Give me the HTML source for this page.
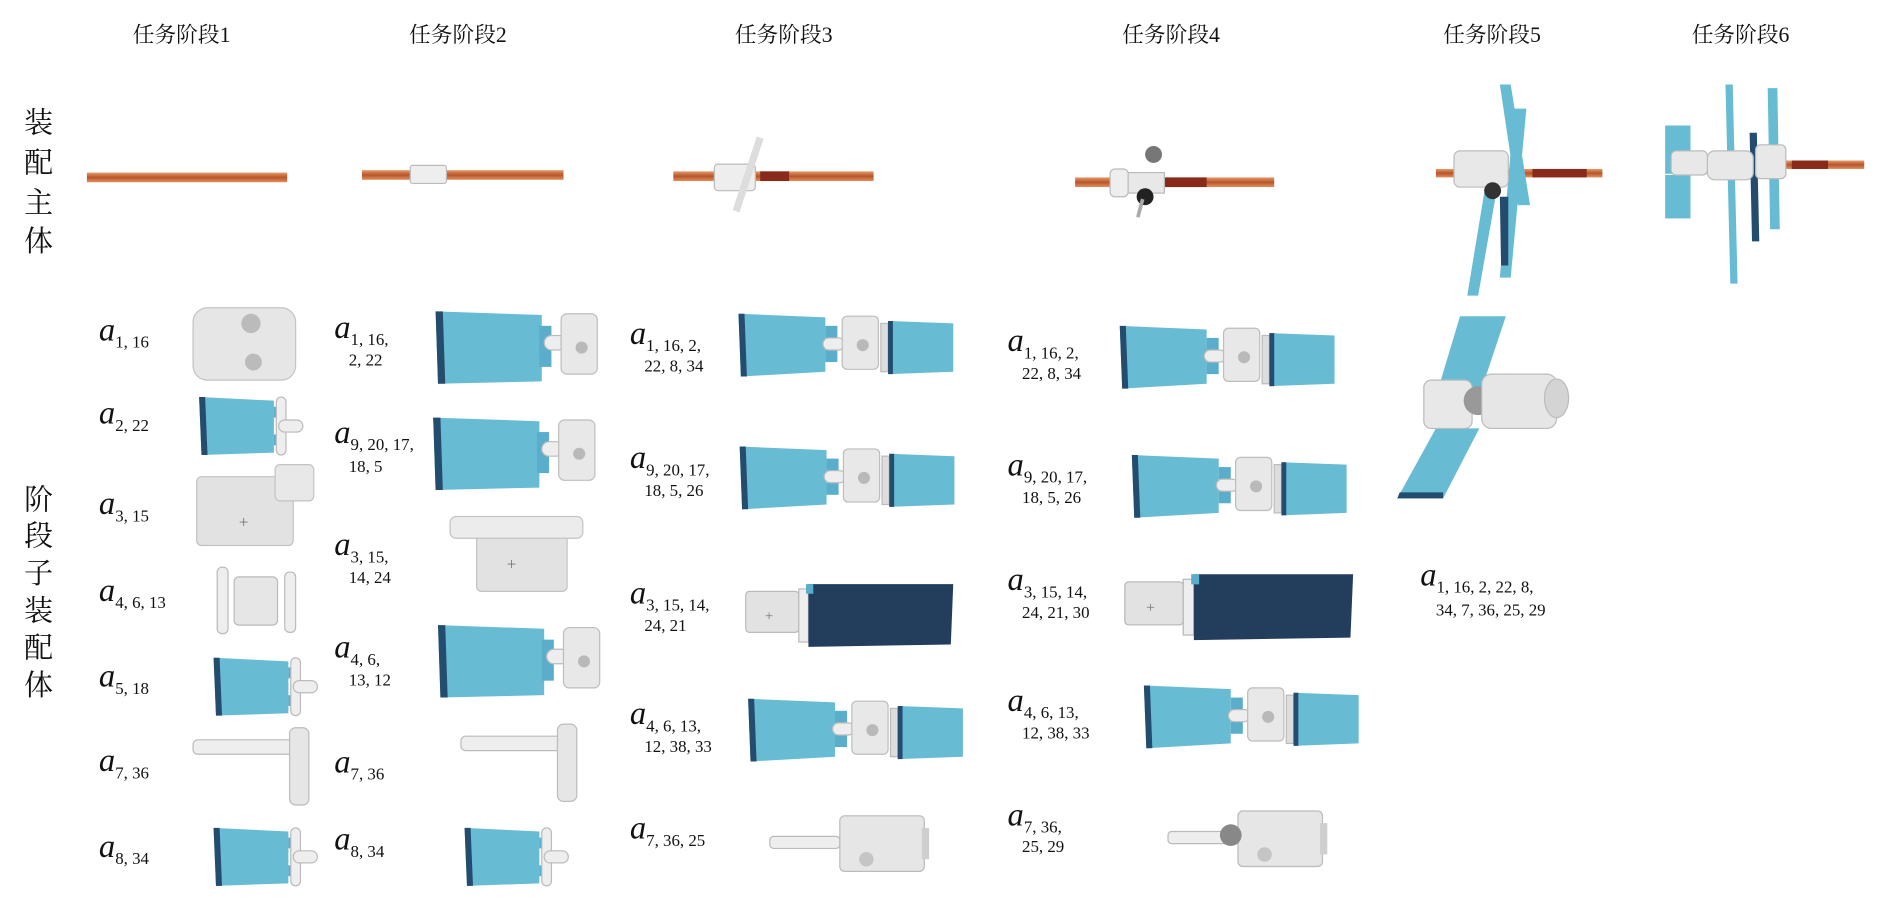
<!DOCTYPE html>
<html><head><meta charset="utf-8"><style>
html,body{margin:0;padding:0;background:#fff;width:1892px;height:916px;overflow:hidden}
svg{display:block}
text{font-family:"Liberation Serif","Noto Serif CJK SC",serif;fill:#111}
.h{font-size:18px}
.v{font-size:24px}
.a{font-size:27px;font-style:italic}
.s{font-size:14px}
</style></head><body>
<svg width="1892" height="916" viewBox="0 0 1568 759" preserveAspectRatio="none" xmlns="http://www.w3.org/2000/svg">
<defs>
<linearGradient id="rod" x1="0" y1="0" x2="0" y2="1"><stop offset="0" stop-color="#e59a6a"/><stop offset=".5" stop-color="#b8552a"/><stop offset="1" stop-color="#e08e5e"/></linearGradient>
<g id="wb"><rect x="0" y="0" width="30" height="44" rx="4" fill="#e8e8e8" stroke="#bdbdbd"/><circle cx="17" cy="24" r="5" fill="#b9b9b9"/></g>
<g id="dp">
 <polygon points="0,0 72,3 72,48 2,52" fill="#67bbd3"/>
 <polygon points="0,0 5,0 7,52 2,52" fill="#244c6e"/>
 <rect x="72" y="10" width="10" height="10" fill="#5aaecb"/><rect x="72" y="30" width="10" height="10" fill="#5aaecb"/>
 <rect x="70" y="20" width="18" height="10" rx="5" fill="#eee" stroke="#bbb"/>
 <use href="#wb" x="86" y="2"/>
 <rect x="118" y="8" width="6" height="40" fill="#ddd" stroke="#bbb"/>
 <polygon points="124,6 178,8 178,48 124,50" fill="#67bbd3"/>
 <rect x="124" y="6" width="4" height="44" fill="#244c6e"/>
</g>
<g id="sp">
 <polygon points="0,0 62,3 62,46 2,48" fill="#67bbd3"/>
 <polygon points="0,0 5,0 7,48 2,48" fill="#244c6e"/>
 <rect x="62" y="8" width="9" height="9" fill="#5aaecb"/><rect x="62" y="31" width="9" height="9" fill="#5aaecb"/>
 <rect x="64" y="0" width="8" height="48" rx="4" fill="#eee" stroke="#bbb"/>
 <rect x="66" y="19" width="20" height="10" rx="5" fill="#eee" stroke="#bbb"/>
</g>
<g id="bp">
 <polygon points="0,0 88,3 88,58 2,60" fill="#67bbd3"/>
 <polygon points="0,0 6,0 8,60 2,60" fill="#244c6e"/>
 <rect x="86" y="12" width="10" height="34" fill="#5aaecb"/>
 <rect x="90" y="20" width="18" height="12" rx="6" fill="#eee" stroke="#bbb"/>
 <rect x="104" y="2" width="30" height="50" rx="5" fill="#e8e8e8" stroke="#bdbdbd"/><circle cx="121" cy="30" r="5" fill="#b9b9b9"/>
</g>
<g id="cyl">
 <rect x="0" y="17" width="58" height="10" rx="3" fill="#eee" stroke="#bbb"/>
 <rect x="58" y="0" width="70" height="46" rx="4" fill="#e6e6e6" stroke="#bbb"/>
 <rect x="126" y="10" width="6" height="26" fill="#cfcfcf"/>
 <circle cx="80" cy="36" r="6" fill="#c5c5c5"/>
</g>
<g id="tt">
 <rect x="0" y="10" width="85" height="12" rx="4" fill="#eee" stroke="#bbb"/>
 <rect x="80" y="0" width="16" height="64" rx="5" fill="#e6e6e6" stroke="#bbb"/>
</g>
<g id="dk">
 <rect x="0" y="6" width="44" height="34" rx="3" fill="#e2e2e2" stroke="#bbb"/>
 <text x="16" y="30" style="font-size:12px;fill:#777">+</text>
 <rect x="44" y="4" width="8" height="44" fill="#eee" stroke="#bbb"/>
 <polygon points="52,0 172,0 170,50 52,52" fill="#233d5d"/>
 <rect x="50" y="0" width="6" height="8" fill="#5aaecb"/>
</g>
</defs>

<!-- headers -->
<text class="h" x="110" y="35">任务阶段1</text>
<text class="h" x="339" y="35">任务阶段2</text>
<text class="h" x="609" y="35">任务阶段3</text>
<text class="h" x="930" y="35">任务阶段4</text>
<text class="h" x="1196" y="35">任务阶段5</text>
<text class="h" x="1402" y="35">任务阶段6</text>

<text class="v" x="20" y="110">装</text><text class="v" x="20" y="143">配</text><text class="v" x="20" y="176">主</text><text class="v" x="20" y="208">体</text>
<text class="v" x="20" y="422">阶</text><text class="v" x="20" y="452">段</text><text class="v" x="20" y="483">子</text><text class="v" x="20" y="514">装</text><text class="v" x="20" y="545">配</text><text class="v" x="20" y="576">体</text>

<!-- rods -->
<rect x="72" y="143" width="166" height="8" fill="url(#rod)"/>
<rect x="300" y="141" width="167" height="8" fill="url(#rod)"/>
<rect x="340" y="137" width="30" height="15" rx="2" fill="#eee" stroke="#bbb"/>
<rect x="558" y="142" width="166" height="8" fill="url(#rod)"/><rect x="630" y="142" width="24" height="8" fill="#8a2a1a"/>
<rect x="592" y="136" width="34" height="22" rx="3" fill="#eee" stroke="#bbb"/>
<line x1="610" y1="175" x2="630" y2="114" stroke="#ddd" stroke-width="6"/>
<rect x="891" y="147" width="165" height="8" fill="url(#rod)"/><rect x="960" y="147" width="40" height="8" fill="#8a2a1a"/>
<rect x="920" y="140" width="15" height="23" rx="4" fill="#eee" stroke="#bbb"/>
<rect x="935" y="143" width="30" height="17" fill="#e8e8e8" stroke="#bbb"/>
<circle cx="956" cy="128" r="7" fill="#777"/><circle cx="949" cy="163" r="7" fill="#222"/>
<line x1="943" y1="180" x2="947" y2="165" stroke="#aaa" stroke-width="3"/>
<!-- stage5 main -->
<rect x="1190" y="140" width="138" height="7" fill="url(#rod)"/><rect x="1270" y="140" width="45" height="7" fill="#8a2a1a"/>
<polygon points="1243,70 1252,70 1268,170 1258,170" fill="#67bbd3"/>
<polygon points="1255,90 1265,90 1252,230 1243,230" fill="#67bbd3"/>
<polygon points="1230,160 1240,160 1225,245 1216,245" fill="#67bbd3"/>
<polygon points="1243,163 1250,163 1250,220 1244,220" fill="#244c6e"/>
<rect x="1205" y="125" width="45" height="30" rx="5" fill="#e8e8e8" stroke="#bbb"/>
<circle cx="1237" cy="158" r="7" fill="#333"/>
<!-- stage6 main -->
<rect x="1480" y="133" width="65" height="7" fill="url(#rod)"/><rect x="1485" y="133" width="30" height="7" fill="#8a2a1a"/>
<rect x="1380" y="104" width="21" height="40" fill="#67bbd3"/><rect x="1380" y="145" width="21" height="36" fill="#67bbd3"/>
<polygon points="1430,70 1436,70 1440,235 1434,235" fill="#67bbd3"/>
<polygon points="1465,73 1473,73 1475,190 1467,190" fill="#67bbd3"/>
<polygon points="1450,110 1456,110 1458,200 1452,200" fill="#244c6e"/>
<rect x="1415" y="125" width="38" height="24" rx="6" fill="#e8e8e8" stroke="#bbb"/>
<rect x="1385" y="125" width="30" height="20" rx="4" fill="#e8e8e8" stroke="#bbb"/>
<rect x="1455" y="120" width="25" height="28" rx="4" fill="#e8e8e8" stroke="#bbb"/>

<!-- col1 -->
<text x="82" y="282"><tspan class="a">a</tspan><tspan class="s" dy="6">1, 16</tspan></text>
<rect x="160" y="255" width="85" height="60" rx="12" fill="#e6e6e6" stroke="#c3c3c3"/><circle cx="208" cy="268" r="8" fill="#bbb"/><circle cx="210" cy="300" r="7" fill="#bbb"/>
<text x="82" y="351"><tspan class="a">a</tspan><tspan class="s" dy="6">2, 22</tspan></text>
<use href="#sp" x="165" y="329"/>
<text x="82" y="426"><tspan class="a">a</tspan><tspan class="s" dy="6">3, 15</tspan></text>
<rect x="163" y="395" width="80" height="57" rx="4" fill="#e2e2e2" stroke="#c3c3c3"/><rect x="228" y="385" width="32" height="30" rx="4" fill="#e8e8e8" stroke="#c3c3c3"/><text x="198" y="437" style="font-size:14px;fill:#777">+</text>
<text x="82" y="498"><tspan class="a">a</tspan><tspan class="s" dy="6">4, 6, 13</tspan></text>
<rect x="194" y="478" width="36" height="40" rx="4" fill="#e6e6e6" stroke="#bbb"/><rect x="180" y="470" width="9" height="55" rx="4" fill="#eee" stroke="#bbb"/><rect x="236" y="474" width="9" height="50" rx="4" fill="#eee" stroke="#bbb"/>
<text x="82" y="569"><tspan class="a">a</tspan><tspan class="s" dy="6">5, 18</tspan></text>
<use href="#sp" x="177" y="545"/>
<text x="82" y="639"><tspan class="a">a</tspan><tspan class="s" dy="6">7, 36</tspan></text>
<use href="#tt" x="160" y="603"/>
<text x="82" y="710"><tspan class="a">a</tspan><tspan class="s" dy="6">8, 34</tspan></text>
<use href="#sp" x="177" y="686"/>

<!-- col2 -->
<text x="277" y="280"><tspan class="a">a</tspan><tspan class="s" dy="6">1, 16,</tspan></text><text class="s" x="289" y="303">2, 22</text>
<use href="#bp" x="361" y="258"/>
<text x="277" y="367"><tspan class="a">a</tspan><tspan class="s" dy="6">9, 20, 17,</tspan></text><text class="s" x="289" y="391">18, 5</text>
<use href="#bp" x="359" y="346"/>
<text x="277" y="460"><tspan class="a">a</tspan><tspan class="s" dy="6">3, 15,</tspan></text><text class="s" x="289" y="483">14, 24</text>
<rect x="395" y="440" width="75" height="50" rx="4" fill="#e2e2e2" stroke="#c3c3c3"/><rect x="373" y="428" width="110" height="18" rx="5" fill="#ececec" stroke="#c3c3c3"/><text x="420" y="472" style="font-size:14px;fill:#777">+</text>
<text x="277" y="545"><tspan class="a">a</tspan><tspan class="s" dy="6">4, 6,</tspan></text><text class="s" x="289" y="568">13, 12</text>
<use href="#bp" x="363" y="518"/>
<text x="277" y="640"><tspan class="a">a</tspan><tspan class="s" dy="6">7, 36</tspan></text>
<use href="#tt" x="382" y="600"/>
<text x="277" y="704"><tspan class="a">a</tspan><tspan class="s" dy="6">8, 34</tspan></text>
<use href="#sp" x="385" y="686"/>

<!-- col3 -->
<text x="522" y="285"><tspan class="a">a</tspan><tspan class="s" dy="6">1, 16, 2,</tspan></text><text class="s" x="534" y="308">22, 8, 34</text>
<use href="#dp" x="612" y="260"/>
<text x="522" y="388"><tspan class="a">a</tspan><tspan class="s" dy="6">9, 20, 17,</tspan></text><text class="s" x="534" y="411">18, 5, 26</text>
<use href="#dp" x="613" y="370"/>
<text x="522" y="500"><tspan class="a">a</tspan><tspan class="s" dy="6">3, 15, 14,</tspan></text><text class="s" x="534" y="523">24, 21</text>
<use href="#dk" x="618" y="484"/>
<text x="522" y="600"><tspan class="a">a</tspan><tspan class="s" dy="6">4, 6, 13,</tspan></text><text class="s" x="534" y="623">12, 38, 33</text>
<use href="#dp" x="620" y="579"/>
<text x="522" y="695"><tspan class="a">a</tspan><tspan class="s" dy="6">7, 36, 25</tspan></text>
<use href="#cyl" x="638" y="676"/>

<!-- col4 -->
<text x="835" y="291"><tspan class="a">a</tspan><tspan class="s" dy="6">1, 16, 2,</tspan></text><text class="s" x="847" y="314">22, 8, 34</text>
<use href="#dp" x="928" y="270"/>
<text x="835" y="394"><tspan class="a">a</tspan><tspan class="s" dy="6">9, 20, 17,</tspan></text><text class="s" x="847" y="417">18, 5, 26</text>
<use href="#dp" x="938" y="377"/>
<text x="835" y="489"><tspan class="a">a</tspan><tspan class="s" dy="6">3, 15, 14,</tspan></text><text class="s" x="847" y="512">24, 21, 30</text>
<use href="#dk" x="932" y="476" transform="translate(-93 -24) scale(1.1 1.05)"/>
<text x="835" y="589"><tspan class="a">a</tspan><tspan class="s" dy="6">4, 6, 13,</tspan></text><text class="s" x="847" y="612">12, 38, 33</text>
<use href="#dp" x="948" y="568"/>
<text x="835" y="684"><tspan class="a">a</tspan><tspan class="s" dy="6">7, 36,</tspan></text><text class="s" x="847" y="706">25, 29</text>
<use href="#cyl" x="968" y="672"/>
<circle cx="1020" cy="692" r="9" fill="#888"/>

<!-- col5 -->
<polygon points="1210,262 1248,262 1228,322 1192,322" fill="#67bbd3"/>
<polygon points="1190,355 1226,355 1196,413 1158,413" fill="#67bbd3"/>
<polygon points="1158,413 1196,413 1196,408 1160,408" fill="#244c6e"/>
<rect x="1180" y="315" width="40" height="40" rx="6" fill="#e8e8e8" stroke="#bbb"/>
<circle cx="1225" cy="332" r="12" fill="#999"/>
<rect x="1228" y="310" width="62" height="45" rx="8" fill="#e6e6e6" stroke="#bbb"/>
<ellipse cx="1290" cy="330" rx="10" ry="16" fill="#d4d4d4" stroke="#bbb"/>
<text x="1177" y="485"><tspan class="a">a</tspan><tspan class="s" dy="6">1, 16, 2, 22, 8,</tspan></text><text class="s" x="1190" y="510">34, 7, 36, 25, 29</text>
</svg>
</body></html>
